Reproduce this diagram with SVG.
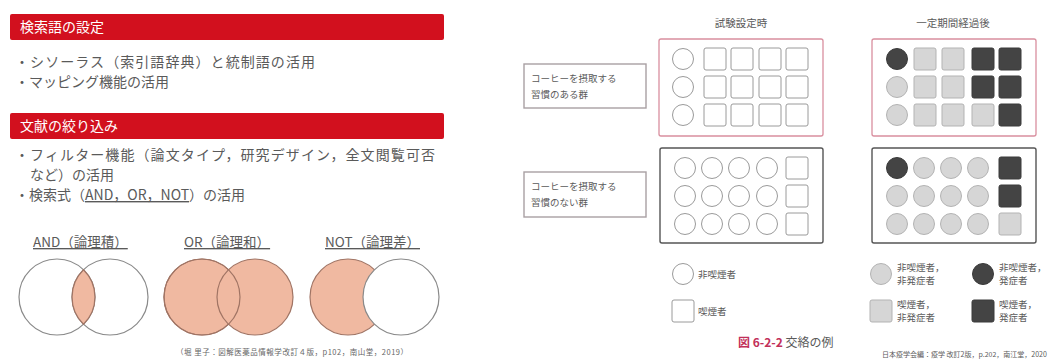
<svg xmlns="http://www.w3.org/2000/svg" width="1057" height="360" viewBox="0 0 1057 360">
<style>
text{font-family:"Noto Sans CJK JP","Noto Sans",sans-serif;fill:#5a5a5a}
.bar{fill:#d2101e}
.bart{fill:#fff;font-size:14px}
.body{font-size:14px}
.vt{font-size:13.5px;text-decoration:underline}
.cite{font-size:7.5px;fill:#666}
.vo{fill:none;stroke:#8a8a8a;stroke-width:1.2}
.vf{fill:#f0b9a1;stroke:#a07464;stroke-width:1.2}
.vs{fill:none;stroke:#a07464;stroke-width:1.2}
.hd{font-size:10.5px;text-anchor:middle}
.lb{font-size:9.5px}
.pink{fill:#fff;stroke:#d98f9f;stroke-width:1.3}
.dk{fill:#fff;stroke:#555;stroke-width:1.4}
.lbox{fill:#fff;stroke:#a9a0a3;stroke-width:1.4}
.o{fill:#fff;stroke:#9a9a9a;stroke-width:1}
.l{fill:#d6d6d6;stroke:#b3b3b3;stroke-width:1}
.d{fill:#444;stroke:#3a3a3a;stroke-width:1}
.cap{font-size:12px}
</style>
<defs>
<circle id="c" r="10.5"/>
<rect id="s" x="-11" y="-11" width="22" height="22" rx="2"/>
</defs>

<g id="section-search-terms">
<rect class="bar" x="10" y="14" width="434" height="26" rx="2"/>
<text class="bart" x="20" y="32">検索語の設定</text>
<text class="body" x="15" y="67" textLength="300">・シソーラス（索引語辞典）と統制語の活用</text>
<text class="body" x="15" y="87">・マッピング機能の活用</text>
</g>

<g id="section-narrowing">
<rect class="bar" x="10" y="113" width="434" height="26" rx="2"/>
<text class="bart" x="20" y="131">文献の絞り込み</text>
<text class="body" x="15" y="160" textLength="420">・フィルター機能（論文タイプ，研究デザイン，全文閲覧可否</text>
<text class="body" x="30" y="180">など）の活用</text>
<text class="body" x="15" y="200">・検索式（<tspan text-decoration="underline">AND，OR，NOT</tspan>）の活用</text>
</g>

<g id="venn-and">
<text class="vt" x="33" y="247">AND（論理積）</text>
<circle class="vo" cx="57" cy="297" r="38"/>
<circle class="vo" cx="110" cy="297" r="38"/>
<path class="vf" d="M83.5,269.8 A38,38 0 0 1 83.5,324.2 A38,38 0 0 1 83.5,269.8 Z"/>
</g>

<g id="venn-or">
<text class="vt" x="184" y="247">OR（論理和）</text>
<circle class="vf" cx="202" cy="297" r="38"/>
<circle class="vf" cx="255" cy="297" r="38"/>
<circle class="vs" cx="202" cy="297" r="38"/>
</g>

<g id="venn-not">
<text class="vt" x="325" y="247">NOT（論理差）</text>
<circle class="vf" cx="348" cy="297" r="38"/>
<circle cx="401" cy="297" r="38" fill="#fff" stroke="#8a8a8a" stroke-width="1.2"/>
</g>

<g id="cite-left">
<text class="cite" x="176" y="355" textLength="232">（堀 里子：図解医薬品情報学改訂４版，p102，南山堂，2019）</text>
</g>

<g id="headers">
<text class="hd" x="741" y="27">試験設定時</text>
<text class="hd" x="953" y="27">一定期間経過後</text>
</g>

<g id="label-coffee">
<rect class="lbox" x="524" y="64" width="122" height="44"/>
<text class="lb" x="531" y="82">コーヒーを摂取する</text>
<text class="lb" x="531" y="98">習慣のある群</text>
</g>

<g id="label-nocoffee">
<rect class="lbox" x="524" y="172" width="122" height="45"/>
<text class="lb" x="531" y="190">コーヒーを摂取する</text>
<text class="lb" x="531" y="206">習慣のない群</text>
</g>

<g id="box-coffee-start">
<rect class="pink" x="659" y="39" width="164" height="97" rx="2"/>
<use href="#c" class="o" x="683" y="59"/><use href="#s" class="o" x="715" y="59"/><use href="#s" class="o" x="742" y="59"/><use href="#s" class="o" x="770" y="59"/><use href="#s" class="o" x="797" y="59"/>
<use href="#c" class="o" x="683" y="87"/><use href="#s" class="o" x="715" y="87"/><use href="#s" class="o" x="742" y="87"/><use href="#s" class="o" x="770" y="87"/><use href="#s" class="o" x="797" y="87"/>
<use href="#c" class="o" x="683" y="115"/><use href="#s" class="o" x="715" y="115"/><use href="#s" class="o" x="742" y="115"/><use href="#s" class="o" x="770" y="115"/><use href="#s" class="o" x="797" y="115"/>
</g>

<g id="box-coffee-after">
<rect class="pink" x="872" y="39" width="164" height="97" rx="2"/>
<use href="#c" class="d" x="897" y="59"/><use href="#s" class="l" x="925" y="59"/><use href="#s" class="l" x="953" y="59"/><use href="#s" class="d" x="983" y="59"/><use href="#s" class="d" x="1010" y="59"/>
<use href="#c" class="l" x="897" y="87"/><use href="#s" class="l" x="925" y="87"/><use href="#s" class="l" x="953" y="87"/><use href="#s" class="d" x="983" y="87"/><use href="#s" class="d" x="1010" y="87"/>
<use href="#c" class="l" x="897" y="115"/><use href="#s" class="l" x="925" y="115"/><use href="#s" class="l" x="953" y="115"/><use href="#s" class="l" x="983" y="115"/><use href="#s" class="d" x="1010" y="115"/>
</g>

<g id="box-nocoffee-start">
<rect class="dk" x="660" y="148" width="163" height="95" rx="2"/>
<use href="#c" class="o" x="685" y="168"/><use href="#c" class="o" x="712" y="168"/><use href="#c" class="o" x="739" y="168"/><use href="#c" class="o" x="767" y="168"/><use href="#s" class="o" x="797" y="168"/>
<use href="#c" class="o" x="685" y="196"/><use href="#c" class="o" x="712" y="196"/><use href="#c" class="o" x="739" y="196"/><use href="#c" class="o" x="767" y="196"/><use href="#s" class="o" x="797" y="196"/>
<use href="#c" class="o" x="685" y="224"/><use href="#c" class="o" x="712" y="224"/><use href="#c" class="o" x="739" y="224"/><use href="#c" class="o" x="767" y="224"/><use href="#s" class="o" x="797" y="224"/>
</g>

<g id="box-nocoffee-after">
<rect class="dk" x="872" y="148" width="164" height="95" rx="2"/>
<use href="#c" class="d" x="897" y="168"/><use href="#c" class="l" x="924" y="168"/><use href="#c" class="l" x="951" y="168"/><use href="#c" class="l" x="978" y="168"/><use href="#s" class="d" x="1010" y="168"/>
<use href="#c" class="l" x="897" y="196"/><use href="#c" class="l" x="924" y="196"/><use href="#c" class="l" x="951" y="196"/><use href="#c" class="l" x="978" y="196"/><use href="#s" class="d" x="1010" y="196"/>
<use href="#c" class="l" x="897" y="224"/><use href="#c" class="l" x="924" y="224"/><use href="#c" class="l" x="951" y="224"/><use href="#c" class="l" x="978" y="224"/><use href="#s" class="l" x="1010" y="224"/>
</g>

<g id="legend">
<use href="#c" class="o" x="683" y="274"/><text class="lb" x="698" y="278">非喫煙者</text>
<use href="#s" class="o" x="683" y="311"/><text class="lb" x="698" y="315">喫煙者</text>
<use href="#c" class="l" x="881" y="274"/><text class="lb" x="897" y="271">非喫煙者，</text><text class="lb" x="897" y="284">非発症者</text>
<use href="#c" class="d" x="983" y="274"/><text class="lb" x="999" y="271">非喫煙者，</text><text class="lb" x="999" y="284">発症者</text>
<use href="#s" class="l" x="881" y="311"/><text class="lb" x="897" y="308">喫煙者，</text><text class="lb" x="897" y="321">非発症者</text>
<use href="#s" class="d" x="983" y="311"/><text class="lb" x="999" y="308">喫煙者，</text><text class="lb" x="999" y="321">発症者</text>
</g>

<g id="caption">
<text class="cap" x="738" y="347"><tspan fill="#c2305a" font-weight="bold">図 6-2-2</tspan>  交絡の例</text>
</g>

<g id="cite-right">
<text x="882" y="357" font-size="7px" fill="#666">日本疫学会編：疫学 改訂2版，p.202，南江堂，2020</text>
</g>
</svg>
